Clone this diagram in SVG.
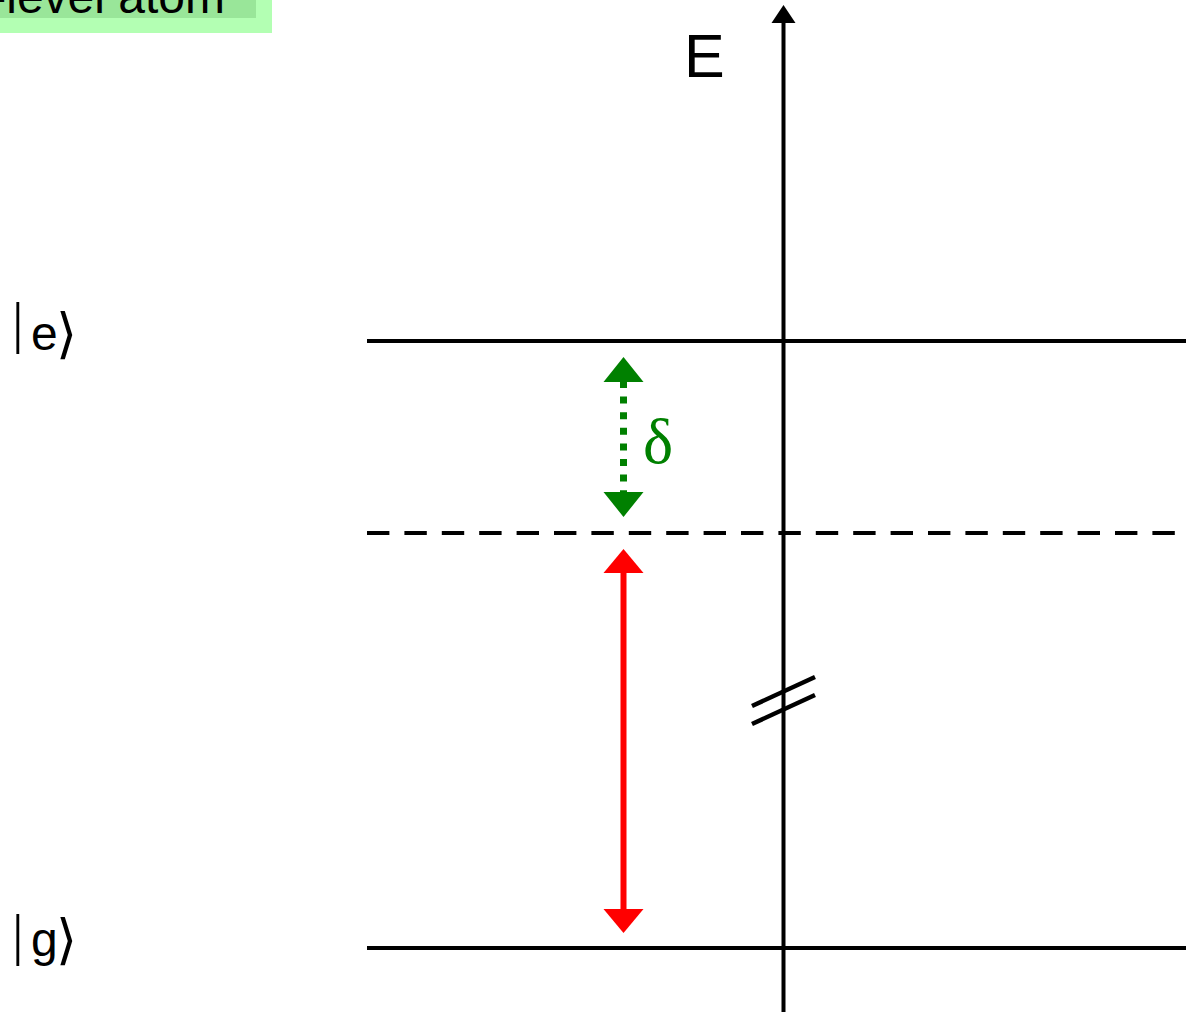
<svg xmlns="http://www.w3.org/2000/svg" width="1186" height="1012" viewBox="0 0 1186 1012">
<style>
.lvl{stroke:#000;stroke-width:4;fill:none}
.lbl{font-family:"Liberation Sans",Arial,sans-serif;font-size:48px;fill:#000}
.bar{font-family:"Liberation Serif","Times New Roman",serif;font-size:58px}
.ket{font-family:"DejaVu Sans",sans-serif;font-size:54px}
</style>
<rect width="1186" height="1012" fill="#fff"/>
<g id="title">
<rect x="0" y="-20" width="272" height="53" fill="#b3ffb3"/>
<rect x="0" y="-20" width="256" height="38" fill="#99e699"/>
<text x="225" y="13" text-anchor="end" class="lbl">2-level atom</text>
</g>
<g id="axis">
<line x1="783.5" y1="1012" x2="783.5" y2="23" class="lvl"/>
<path d="M771.5,23 L783.5,5 L795.5,23 Z" fill="#000"/>
<text x="684" y="77" font-family="Liberation Sans,Arial,sans-serif" font-size="61" fill="#000">E</text>
<line x1="752" y1="706" x2="815" y2="677" stroke="#000" stroke-width="4.5"/>
<line x1="752" y1="724" x2="815" y2="695" stroke="#000" stroke-width="4.5"/>
</g>
<g id="level-e">
<line x1="367" y1="341" x2="1186" y2="341" class="lvl"/>
<text y="350" class="lbl"><tspan x="12" y="342" class="bar">|</tspan><tspan x="31" y="350">e</tspan><tspan x="56" y="352" class="ket">⟩</tspan></text>
</g>
<g id="level-virtual">
<line x1="367" y1="533" x2="1186" y2="533" class="lvl" stroke-dasharray="22.4 15"/>
</g>
<g id="level-g">
<line x1="367" y1="948" x2="1186" y2="948" class="lvl"/>
<text y="956" class="lbl"><tspan x="12" y="954" class="bar">|</tspan><tspan x="31" y="956">g</tspan><tspan x="56" y="958" class="ket">⟩</tspan></text>
</g>
<g id="connectors">
<g id="detuning">
<line x1="623.5" y1="381" x2="623.5" y2="493" stroke="#008000" stroke-width="7" stroke-dasharray="7 8.6"/>
<path d="M603.5,382 L623.5,357 L643.5,382 Z" fill="#008000"/>
<path d="M603.5,492 L623.5,517 L643.5,492 Z" fill="#008000"/>
<text x="643" y="463" font-family="Liberation Serif,Times New Roman,serif" font-size="64" fill="#008000">δ</text>
</g>
<g id="laser">
<line x1="623.5" y1="572" x2="623.5" y2="910" stroke="#f00" stroke-width="6"/>
<path d="M603.5,573 L623.5,549 L643.5,573 Z" fill="#f00"/>
<path d="M603.5,909 L623.5,933 L643.5,909 Z" fill="#f00"/>
</g>
</g>
</svg>
